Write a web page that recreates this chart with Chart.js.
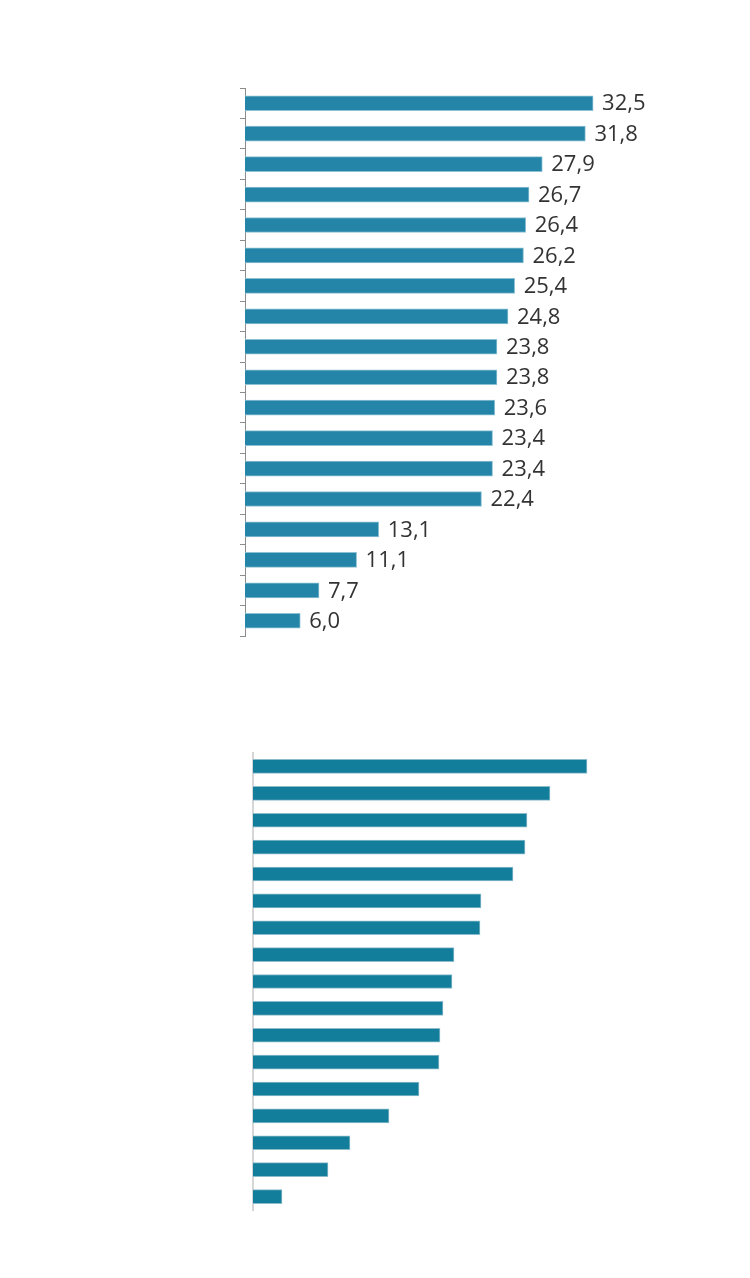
<!DOCTYPE html>
<html>
<head>
<meta charset="utf-8">
<script src="https://cdn.jsdelivr.net/npm/chart.js@4"></script>
<style>
	html, body { margin: 0; padding: 0; background: #fff; }
	body { width: 750px; height: 1278px; position: relative; overflow: hidden; }
	canvas { position: absolute; left: 0; }
	#topChart { top: 0; }
	#bottomChart { top: 700px; }
</style>
</head>
<body>
<canvas id="topChart" width="750" height="660"></canvas>
<canvas id="bottomChart" width="750" height="560"></canvas>
<script>
// top chart data (values shown as labels, decimal comma)
const topCategories = ['1', '2', '3', '4', '5', '6', '7', '8', '9', '10', '11', '12', '13', '14', '15', '16', '17', '18'];
const topValues = [32.5, 31.8, 27.9, 26.7, 26.4, 26.2, 25.4, 24.8, 23.8, 23.8, 23.6, 23.4, 23.4, 22.4, 13.1, 11.1, 7.7, 6.0];

// bottom chart data (no labels in the picture)
const bottomCategories = ['1', '2', '3', '4', '5', '6', '7', '8', '9', '10', '11', '12', '13', '14', '15', '16', '17'];
const bottomValues = [33.4, 29.7, 27.4, 27.2, 26.0, 22.8, 22.7, 20.1, 19.9, 19.0, 18.7, 18.6, 16.6, 13.6, 9.7, 7.5, 2.9];

const fmt = (v) => v.toFixed(1).replace('.', ',');

// draws the value right of each bar
const valueLabels = {
	id: 'valueLabels',
	afterDatasetsDraw(chart) {
		const ctx = chart.ctx;
		const meta = chart.getDatasetMeta(0);
		const data = chart.data.datasets[0].data;
		ctx.save();
		ctx.font = '22px "Open Sans", sans-serif';
		ctx.fillStyle = '#333333';
		ctx.textAlign = 'left';
		ctx.textBaseline = 'middle';
		meta.data.forEach((bar, i) => {
			ctx.fillText(fmt(data[i]), bar.x + 9, bar.y + 1);
		});
		ctx.restore();
	}
};

function fixedWidth(w) {
	return (scale) => { scale.width = w; };
}

new Chart(document.getElementById('topChart'), {
	type: 'bar',
	data: {
		labels: topCategories,
		datasets: [{
			data: topValues,
			backgroundColor: '#2585a8',
			borderColor: '#8cc0d3',
			borderWidth: { top: 1, bottom: 1, right: 1, left: 0 },
			barThickness: 15
		}]
	},
	options: {
		indexAxis: 'y',
		responsive: false,
		animation: false,
		layout: { padding: { left: 240, top: 88, bottom: 24, right: 74 } },
		plugins: { legend: { display: false }, tooltip: { enabled: false } },
		scales: {
			x: { display: false, min: 1, max: 40 },
			y: {
				afterFit: fixedWidth(5),
				ticks: { display: false },
				grid: { offset: true, drawOnChartArea: false, drawTicks: true, tickLength: 5, color: '#8c8c8c' },
				border: { display: true, color: '#8c8c8c', width: 1 }
			}
		}
	},
	plugins: [valueLabels]
});

new Chart(document.getElementById('bottomChart'), {
	type: 'bar',
	data: {
		labels: bottomCategories,
		datasets: [{
			data: bottomValues,
			backgroundColor: '#137e9b',
			borderColor: '#8cbccb',
			borderWidth: { top: 1, bottom: 1, right: 1, left: 0 },
			barThickness: 14
		}]
	},
	options: {
		indexAxis: 'y',
		responsive: false,
		animation: false,
		layout: { padding: { left: 250, top: 53, bottom: 50, right: 97 } },
		plugins: { legend: { display: false }, tooltip: { enabled: false } },
		scales: {
			x: { display: false, min: 0, max: 40 },
			y: {
				afterFit: fixedWidth(3),
				ticks: { display: false },
				grid: { offset: true, drawOnChartArea: false, drawTicks: false },
				border: { display: true, color: '#d6d6d6', width: 2 }
			}
		}
	}
});
</script>
</body>
</html>
